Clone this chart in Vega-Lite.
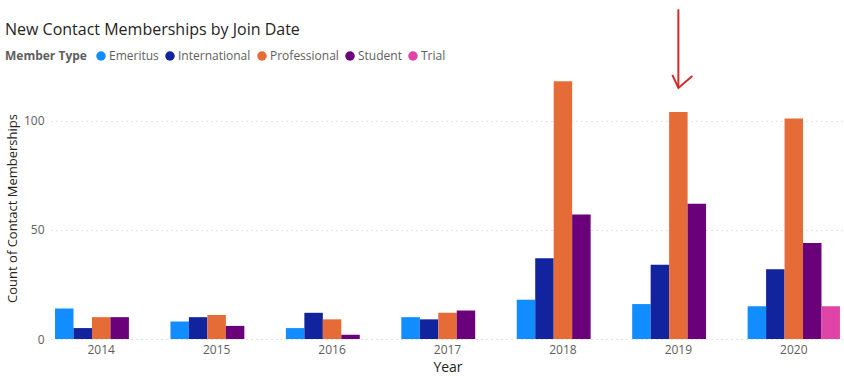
{
  "$schema": "https://vega.github.io/schema/vega-lite/v6.json",
  "autosize": {"type": "none"},
  "width": 793,
  "height": 262,
  "padding": {"left": 51, "top": 77, "right": 0, "bottom": 44},
  "background": "white",
  "title": {
    "text": "New Contact Memberships by Join Date",
    "anchor": "start",
    "frame": "group",
    "dx": -46,
    "dy": 30,
    "fontSize": 16,
    "font": "Open Sans",
    "fontWeight": "normal",
    "color": "#252423",
    "offset": 0
  },
  "config": {
    "view": {"stroke": null},
    "font": "Open Sans"
  },
  "layer": [
    {
      "data": {
        "values": [
          {"year": "2014", "type": "Emeritus", "count": 14},
          {"year": "2014", "type": "International", "count": 5},
          {"year": "2014", "type": "Professional", "count": 10},
          {"year": "2014", "type": "Student", "count": 10},
          {"year": "2015", "type": "Emeritus", "count": 8},
          {"year": "2015", "type": "International", "count": 10},
          {"year": "2015", "type": "Professional", "count": 11},
          {"year": "2015", "type": "Student", "count": 6},
          {"year": "2016", "type": "Emeritus", "count": 5},
          {"year": "2016", "type": "International", "count": 12},
          {"year": "2016", "type": "Professional", "count": 9},
          {"year": "2016", "type": "Student", "count": 2},
          {"year": "2017", "type": "Emeritus", "count": 10},
          {"year": "2017", "type": "International", "count": 9},
          {"year": "2017", "type": "Professional", "count": 12},
          {"year": "2017", "type": "Student", "count": 13},
          {"year": "2018", "type": "Emeritus", "count": 18},
          {"year": "2018", "type": "International", "count": 37},
          {"year": "2018", "type": "Professional", "count": 118},
          {"year": "2018", "type": "Student", "count": 57},
          {"year": "2019", "type": "Emeritus", "count": 16},
          {"year": "2019", "type": "International", "count": 34},
          {"year": "2019", "type": "Professional", "count": 104},
          {"year": "2019", "type": "Student", "count": 62},
          {"year": "2020", "type": "Emeritus", "count": 15},
          {"year": "2020", "type": "International", "count": 32},
          {"year": "2020", "type": "Professional", "count": 101},
          {"year": "2020", "type": "Student", "count": 44},
          {"year": "2020", "type": "Trial", "count": 15}
        ]
      },
      "mark": {"type": "bar"},
      "encoding": {
        "x": {
          "field": "year",
          "type": "ordinal",
          "scale": {"paddingInner": 0.2, "paddingOuter": 0.035},
          "axis": {
            "title": "Year",
            "labelAngle": 0,
            "labelFontSize": 12,
            "labelColor": "#605E5C",
            "labelPadding": 5,
            "ticks": false,
            "domain": false,
            "titleFontSize": 14,
            "titleFontWeight": "normal",
            "titleColor": "#252423",
            "titlePadding": 5
          }
        },
        "xOffset": {
          "field": "type",
          "type": "nominal",
          "scale": {
            "domain": ["Emeritus", "International", "Professional", "Student", "Trial"],
            "paddingInner": 0,
            "paddingOuter": 0
          }
        },
        "y": {
          "field": "count",
          "type": "quantitative",
          "scale": {"domain": [0, 120], "nice": false},
          "axis": {
            "title": "Count of Contact Memberships",
            "values": [0, 50, 100],
            "labelFontSize": 12,
            "labelColor": "#605E5C",
            "labelPadding": 7,
            "ticks": false,
            "domain": false,
            "grid": true,
            "gridColor": "#C8C6C4",
            "gridDash": [1, 4],
            "gridWidth": 1,
            "titleFontSize": 13,
            "titleFontWeight": "normal",
            "titleColor": "#252423",
            "titlePadding": 4
          }
        },
        "color": {
          "field": "type",
          "type": "nominal",
          "scale": {
            "domain": ["Emeritus", "International", "Professional", "Student", "Trial"],
            "range": ["#118DFF", "#12239E", "#E66C37", "#6B007B", "#E044A7"]
          },
          "legend": {
            "title": "Member Type",
            "orient": "none",
            "direction": "horizontal",
            "legendX": -46,
            "legendY": -27,
            "titleOrient": "left",
            "titleFontSize": 12,
            "titleFontWeight": "bold",
            "titleColor": "#605E5C",
            "titlePadding": 8,
            "labelFontSize": 12,
            "labelColor": "#605E5C",
            "labelOffset": 2,
            "columnPadding": 5,
            "symbolType": "circle",
            "symbolSize": 90,
            "symbolStrokeWidth": 0
          }
        }
      }
    },
    {
      "data": {"values": [{"year": "2019", "type": "Professional", "top": 151, "tip": 115}]},
      "mark": {"type": "rule", "color": "#D42A2A", "strokeWidth": 2},
      "encoding": {
        "x": {"field": "year", "type": "ordinal"},
        "xOffset": {"field": "type", "type": "nominal"},
        "y": {"field": "top", "type": "quantitative", "scale": {"domain": [0, 120], "nice": false}},
        "y2": {"field": "tip"}
      }
    },
    {
      "data": {"values": [{"year": "2019", "type": "Professional", "tip": 115}]},
      "mark": {
        "type": "point",
        "shape": "M -0.6 -1.3 L 0 0 L 1.4 -1.2",
        "filled": false,
        "stroke": "#D42A2A",
        "strokeWidth": 2,
        "size": 400,
        "opacity": 1
      },
      "encoding": {
        "x": {"field": "year", "type": "ordinal"},
        "xOffset": {"field": "type", "type": "nominal"},
        "y": {"field": "tip", "type": "quantitative", "scale": {"domain": [0, 120], "nice": false}}
      }
    }
  ]
}
